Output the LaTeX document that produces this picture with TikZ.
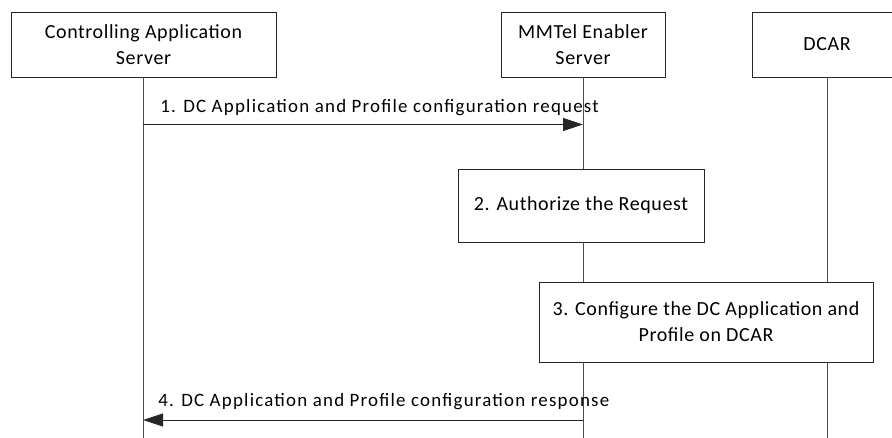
\documentclass[tikz,border=0pt]{standalone}
\usepackage{fontspec}
\setmainfont{Carlito}
\newfontfamily\boxfont[LetterSpace=3]{Carlito}
\newfontfamily\lblfont[LetterSpace=6.5]{Carlito}
\usetikzlibrary{arrows.meta}
\begin{document}
\begin{tikzpicture}[x=1bp,y=-1bp,
  box/.style={draw=black!85,line width=0.8bp,inner sep=0pt,align=center,font=\boxfont\fontsize{20bp}{26bp}\selectfont},
  life/.style={draw=black!70,line width=0.8bp},
  msg/.style={draw=black!85,line width=0.8bp,-{Triangle[length=20bp,width=13bp]}},
  lbl/.style={font=\lblfont\fontsize{18.9bp}{22bp}\selectfont,inner sep=0pt}]
\useasboundingbox[clip] (0,0) rectangle (892,438);
% heads
\node[box,minimum width=265bp,minimum height=65bp] (cas) at (143.5,44.5) {Controlling Application\\Server};
\node[box,minimum width=164bp,minimum height=65bp] (mes) at (583,44.5) {MMTel Enabler\\Server};
\node[box,minimum width=150bp,minimum height=65bp] (dcar) at (827,44.5) {DCAR};
% lifeline ends
\coordinate (casend) at (143,438);
\coordinate (mesend) at (583,438);
\coordinate (dcarend) at (827,438);
% step boxes
\node[box,minimum width=246bp,minimum height=73bp] (s2) at (581,205.5) {2. Authorize the Request};
\node[box,minimum width=334bp,minimum height=80bp] (s3) at (706,322) {3. Configure the DC Application and\\Profile on DCAR};
% lifelines
\draw[life] (cas.south -| casend) -- (casend);
\draw[life] (mes.south) -- (s2.north -| mesend);
\draw[life] (s2.south -| mesend) -- (s3.north -| mesend);
\draw[life] (s3.south -| mesend) -- (mesend);
\draw[life] (dcar.south) -- (s3.north -| dcarend);
\draw[life] (s3.south -| dcarend) -- (dcarend);
% messages
\coordinate (m1a) at (143,124.5);
\coordinate (m1b) at (583,124.5);
\draw[msg] (m1a) -- node[lbl,pos=0,anchor=base west,xshift=17bp,yshift=12bp] (l1) {1. DC Application and Profile configuration request} (m1b);
\coordinate (m4a) at (583,420);
\coordinate (m4b) at (143,420);
\draw[msg] (m4a) -- node[lbl,pos=1,anchor=base west,xshift=15bp,yshift=13bp] (l4) {4. DC Application and Profile configuration response} (m4b);
\end{tikzpicture}
\end{document}
